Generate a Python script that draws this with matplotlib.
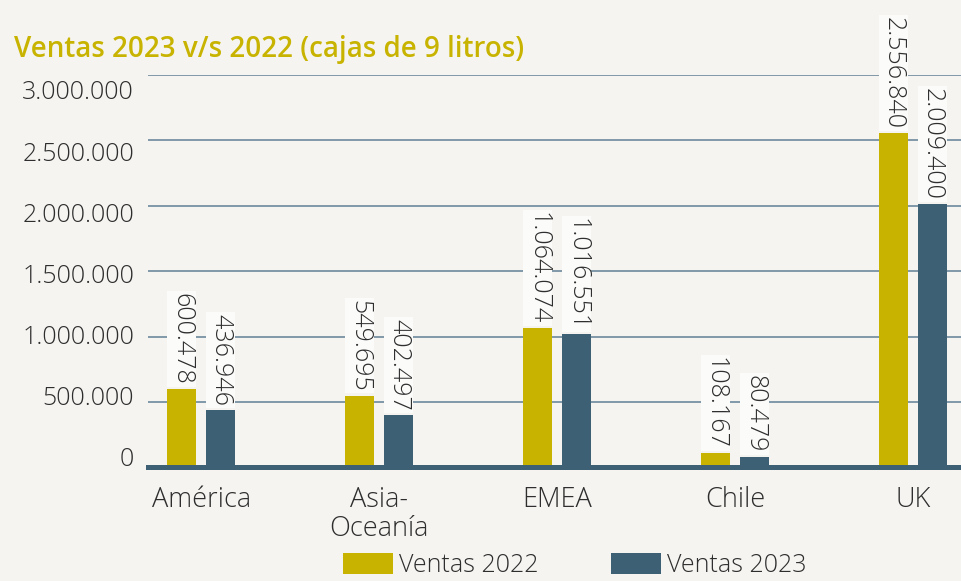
import numpy as np
import matplotlib
matplotlib.use("Agg")
import matplotlib.pyplot as plt
from matplotlib.ticker import FuncFormatter

# ── data ───────────────────────────────────────────────────────────────────
REGIONS   = ["América", "Asia-\nOceanía", "EMEA", "Chile", "UK"]
VENTAS_22 = [600478, 549695, 1064074, 108167, 2556840]
VENTAS_23 = [436946, 402497, 1016551, 80479, 2009400]
SERIES    = ["Ventas 2022", "Ventas 2023"]
Y_TICKS   = [0, 500000, 1000000, 1500000, 2000000, 2500000, 3000000]

# ── style ──────────────────────────────────────────────────────────────────
BG      = "#f5f4f1"
C_2022  = "#c8b400"
C_2023  = "#3d6074"
GRID    = "#5f7f94"
TXT     = "#2e2e2e"
FS      = 18

plt.rcParams["font.family"] = ["Open Sans", "DejaVu Sans"]


def miles(v):
    # 2556840 -> "2.556.840"
    return f"{int(round(v)):,}".replace(",", ".")


# tick labels in the original sit on a slightly squeezed scale vs. the gridlines
LAB_LO, LAB_K = 80000, 0.9347
def to_lab(p):
    return (p - LAB_LO) / LAB_K
def from_lab(s):
    return LAB_LO + s * LAB_K


def main():
    fig = plt.figure(figsize=(9.61, 5.81), dpi=100, facecolor=BG)
    ax = fig.add_axes([0.154, 0.1954, 0.846, 0.676])
    ax.set_facecolor(BG)

    x = np.arange(len(REGIONS))
    w, off = 0.163, 0.11
    b22 = ax.bar(x - off, VENTAS_22, w, color=C_2022, label=SERIES[0], zorder=3)
    b23 = ax.bar(x + off, VENTAS_23, w, color=C_2023, label=SERIES[1], zorder=3)

    # value labels, rotated and boxed
    for bars, vals in [(b22, VENTAS_22), (b23, VENTAS_23)]:
        for r, v in zip(bars, vals):
            ax.annotate(miles(v), (r.get_x() + r.get_width() / 2, v),
                        xytext=(0, 3), textcoords="offset points",
                        rotation=270, ha="center", va="bottom",
                        fontsize=FS, fontweight="light", color=TXT, zorder=4,
                        annotation_clip=False,
                        bbox=dict(boxstyle="square,pad=0.08", fc="#fbfbfa", ec="none"))

    ax.set_xlim(-0.30, 4.27)
    ax.set_ylim(0, 3000000)
    ax.set_yticks(Y_TICKS)
    ax.set_yticklabels([])
    ax.tick_params(axis="y", length=0)
    ax.grid(axis="y", color=GRID, lw=1.1, zorder=0)
    ax.axhline(0, color=C_2023, lw=3.6, zorder=5, clip_on=False)

    sec = ax.secondary_yaxis("left", functions=(to_lab, from_lab))
    sec.set_yticks(Y_TICKS)
    sec.yaxis.set_major_formatter(FuncFormatter(lambda v, _: miles(v)))
    sec.tick_params(axis="y", length=0, pad=10, labelsize=FS, labelcolor=TXT)
    for lab in sec.get_yticklabels():
        lab.set_fontweight("light")
    sec.spines["left"].set_visible(False)

    ax.set_xticks(x)
    ax.set_xticklabels(REGIONS, fontsize=19.5, fontweight="light", color=TXT,
                       linespacing=1.05)
    ax.tick_params(axis="x", length=0, pad=13)
    for s in ax.spines.values():
        s.set_visible(False)

    fig.text(0.0146, 0.915, "Ventas 2023 v/s 2022 (cajas de 9 litros)",
             fontsize=20, fontweight="semibold", color=C_2022, va="center")

    fig.legend(handles=[b22, b23], labels=SERIES, loc="center",
               bbox_to_anchor=(0.598, 0.027), ncol=2, frameon=False,
               prop=dict(size=FS, weight="light"), labelcolor=TXT,
               handlelength=2.0, handleheight=0.9,
               handletextpad=0.25, columnspacing=2.9)

    fig.savefig("out.png", dpi=100, facecolor=BG)


if __name__ == "__main__":
    main()
